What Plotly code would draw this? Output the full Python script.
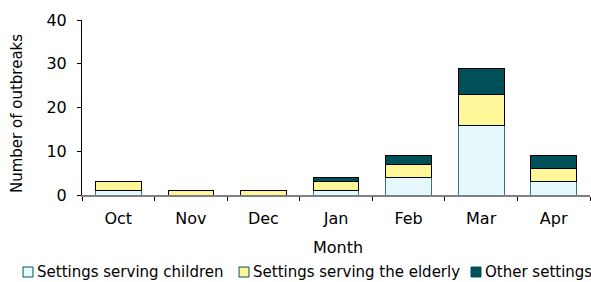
import plotly.graph_objects as go

months = ["Oct", "Nov", "Dec", "Jan", "Feb", "Mar", "Apr"]
children = [1, 0, 0, 1, 4, 16, 3]
elderly = [2, 1, 1, 2, 3, 7, 3]
other = [0, 0, 0, 1, 2, 6, 3]

names = ["Settings serving children", "Settings serving the elderly", "Other settings"]
fills = ["#E5F9FC", "#FFF599", "#00505A"]
edges = ["#3C7378", "#000000", "#000000"]
values = [children, elderly, other]

W, H = 591, 282
L, R, T, B = 82, 1, 20, 87
FONT = "DejaVu Sans, Arial"

fig = go.Figure()
for name, vals, col, ec in zip(names, values, fills, edges):
    fig.add_trace(go.Bar(
        x=months, y=vals, name=name, showlegend=False,
        marker=dict(color=col, line=dict(color=ec, width=1)),
        width=0.63,
    ))

pw = W - L - R
ph = H - T - B
def px_x(p):
    return (p - L) / pw
def px_y(p):
    return (H - B - p) / ph

# legend (keys + labels), laid out below the chart
leg_x = [23, 239, 471]
leg_y = 272
shapes = []
annotations = []
for name, col, lx in zip(names, fills, leg_x):
    shapes.append(dict(type="rect", xref="paper", yref="paper",
                       x0=px_x(lx), x1=px_x(lx + 10), y0=px_y(leg_y + 5), y1=px_y(leg_y - 5),
                       fillcolor=col, line=dict(color="#00505A", width=1)))
    annotations.append(dict(text=name, xref="paper", yref="paper",
                            x=px_x(lx + 12), y=px_y(leg_y), xanchor="left", yanchor="middle",
                            showarrow=False, font=dict(size=15, family=FONT, color="#000")))

annotations.append(dict(text="Month", xref="paper", yref="paper", x=px_x(338), y=px_y(247),
                        xanchor="center", yanchor="middle", showarrow=False,
                        font=dict(size=16, family=FONT, color="#000")))
annotations.append(dict(text="Number of outbreaks", xref="paper", yref="paper", x=px_x(17), y=px_y(114),
                        xanchor="center", yanchor="middle", textangle=-90, showarrow=False,
                        font=dict(size=15, family=FONT, color="#000")))

fig.update_layout(
    barmode="stack",
    width=W, height=H,
    margin=dict(l=L, r=R, t=T, b=B),
    paper_bgcolor="white", plot_bgcolor="white",
    font=dict(family=FONT, size=15, color="#000000"),
    showlegend=False,
    shapes=shapes,
    annotations=annotations,
    xaxis=dict(
        automargin=False,
        showline=True, linecolor="#808080", linewidth=1.5,
        ticks="outside", ticklen=4, tickcolor="#000000",
        tickson="boundaries", tickfont=dict(size=16),
        ticklabelstandoff=8,
    ),
    yaxis=dict(
        automargin=False,
        range=[0, 40], dtick=10,
        showline=True, linecolor="#000000", linewidth=1,
        ticks="outside", ticklen=4, tickcolor="#000000",
        showgrid=False, zeroline=False, tickfont=dict(size=16),
        ticklabelstandoff=7,
    ),
    bargap=0.37,
)

fig.write_html("out.html", config={"displayModeBar": False},
               post_script="document.body.style.margin='0';document.body.style.overflow='hidden';")
